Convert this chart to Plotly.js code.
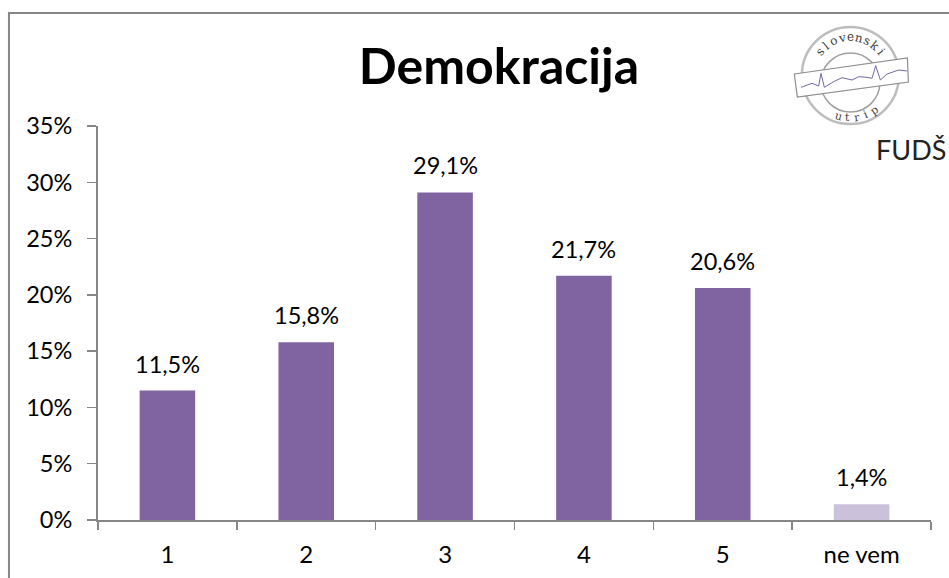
<!DOCTYPE html>
<html><head><meta charset="utf-8">
<script src="https://cdn.plot.ly/plotly-3.0.1.min.js"></script>
<style>html,body{margin:0;padding:0;background:#fff}#c{width:949px;height:578px}</style></head>
<body><div id="c"></div>
<script>
const categories = ['1','2','3','4','5','ne vem'];
const values = [11.5,15.8,29.1,21.7,20.6,1.4];
const valueLabels = ['11,5%','15,8%','29,1%','21,7%','20,6%','1,4%'];
const barColors = ['#8064A2','#8064A2','#8064A2','#8064A2','#8064A2','#CCC1DA'];
const tickVals = [0,5,10,15,20,25,30,35];
const tickText = ['0%','5%','10%','15%','20%','25%','30%','35%'];
const W=949,H=578,L=98,T=126,R=18.4,B=58;
const FONT='Lato, Carlito, "Open Sans", sans-serif';
const px=x=>(x-L)/(W-L-R), py=y=>(H-B-y)/(H-T-B);
const P=(pts,close)=>pts.map((p,i)=>(i?'L':'M')+px(p[0]).toFixed(5)+','+py(p[1]).toFixed(5)).join(' ')+(close?' Z':'');
const circ=(cx,cy,r,o)=>Object.assign({type:'circle',xref:'paper',yref:'paper',x0:px(cx-r),x1:px(cx+r),y0:py(cy-r),y1:py(cy+r),layer:'above'},o);
const poly=(pts,close,o)=>Object.assign({type:'path',xref:'paper',yref:'paper',path:P(pts,close),layer:'above'},o);
const letter=(t,x,y,a,s)=>({text:t,xref:'paper',yref:'paper',x:px(x),y:py(y),xanchor:'center',yanchor:'middle',showarrow:false,textangle:a,
  font:{family:'"DejaVu Serif","Liberation Serif",serif',size:s,color:'#3d3d3d'}});
const arc=(w,cx,cy,r,start,step,s,up)=>[...w].map((ch,i)=>{const d=start+i*step,t=d*Math.PI/180;
  return letter(ch,cx+r*Math.sin(t),cy-r*Math.cos(t),up?d:d-180,s);});
const ecg=[[92,262],[125,250],[145,258],[152,220],[162,262],[190,245],[215,233],[245,240],[265,230],[290,232],[305,235],[316,197],[330,240],[350,222],[385,210],[410,213]].map(p=>[770+p[0]/3,p[1]/3]);
const shapes=[
 poly([[9,578],[9,13],[949,13]],false,{line:{color:'#868686',width:2},layer:'below'}),
 circ(850,75.5,48.5,{line:{color:'#bdbdbd',width:2.5}}),
 circ(850,82.5,29.5,{line:{color:'#a0a0a0',width:1.5}}),
 poly([[794,74],[907,58],[908,82],[797,97]],true,{fillcolor:'#ffffff',line:{color:'#8e8e8e',width:1.2}}),
 poly(ecg,false,{line:{color:'#6f6aa8',width:1}})
];
const labelAnn=categories.map((c,i)=>({text:valueLabels[i],x:i,y:values[i],xref:'x',yref:'y',xanchor:'center',yanchor:'bottom',yshift:11,showarrow:false,
  font:{family:FONT,size:23.5,color:'#000'}}));
const annotations=[...labelAnn,
 ...arc('slovenski',850,76,39,-52,13,12,true),
 ...arc('utrip',850,76,42,196,-12.7,11,false),
 {text:'FUDŠ',xref:'paper',yref:'paper',x:px(911),y:py(149),xanchor:'center',yanchor:'middle',showarrow:false,
  font:{family:'Lato,sans-serif',size:27,color:'#222'}}
];
Plotly.newPlot('c',[{
  type:'bar',x:categories,y:values,marker:{color:barColors,line:{width:0}},hoverinfo:'x+y'
}],{
  width:W,height:H,paper_bgcolor:'#fff',plot_bgcolor:'#fff',showlegend:false,bargap:0.6,
  margin:{l:L,r:R,t:T,b:B,pad:0},
  title:{text:'<b>Demokracija</b>',x:499/W,xref:'container',xanchor:'center',y:1-66/H,yanchor:'middle',font:{family:FONT,size:50,color:'#000'}},
  xaxis:{type:'category',tickmode:'array',tickvals:categories,ticktext:categories,ticks:'outside',tickson:'boundaries',ticklen:8,tickwidth:1.5,tickcolor:'#868686',ticklabelstandoff:12,
    showgrid:false,showline:true,linecolor:'#868686',linewidth:2,tickfont:{family:FONT,size:24,color:'#000'},zeroline:false,fixedrange:true},
  yaxis:{range:[0,35],tickmode:'array',tickvals:tickVals,ticktext:tickText,ticks:'outside',ticklen:9,tickwidth:1.5,tickcolor:'#868686',ticklabelstandoff:10,
    showgrid:false,showline:true,linecolor:'#868686',linewidth:2,tickfont:{family:FONT,size:23.5,color:'#000'},zeroline:false,fixedrange:true},
  shapes,annotations
},{staticPlot:true,displayModeBar:false});
</script></body></html>
